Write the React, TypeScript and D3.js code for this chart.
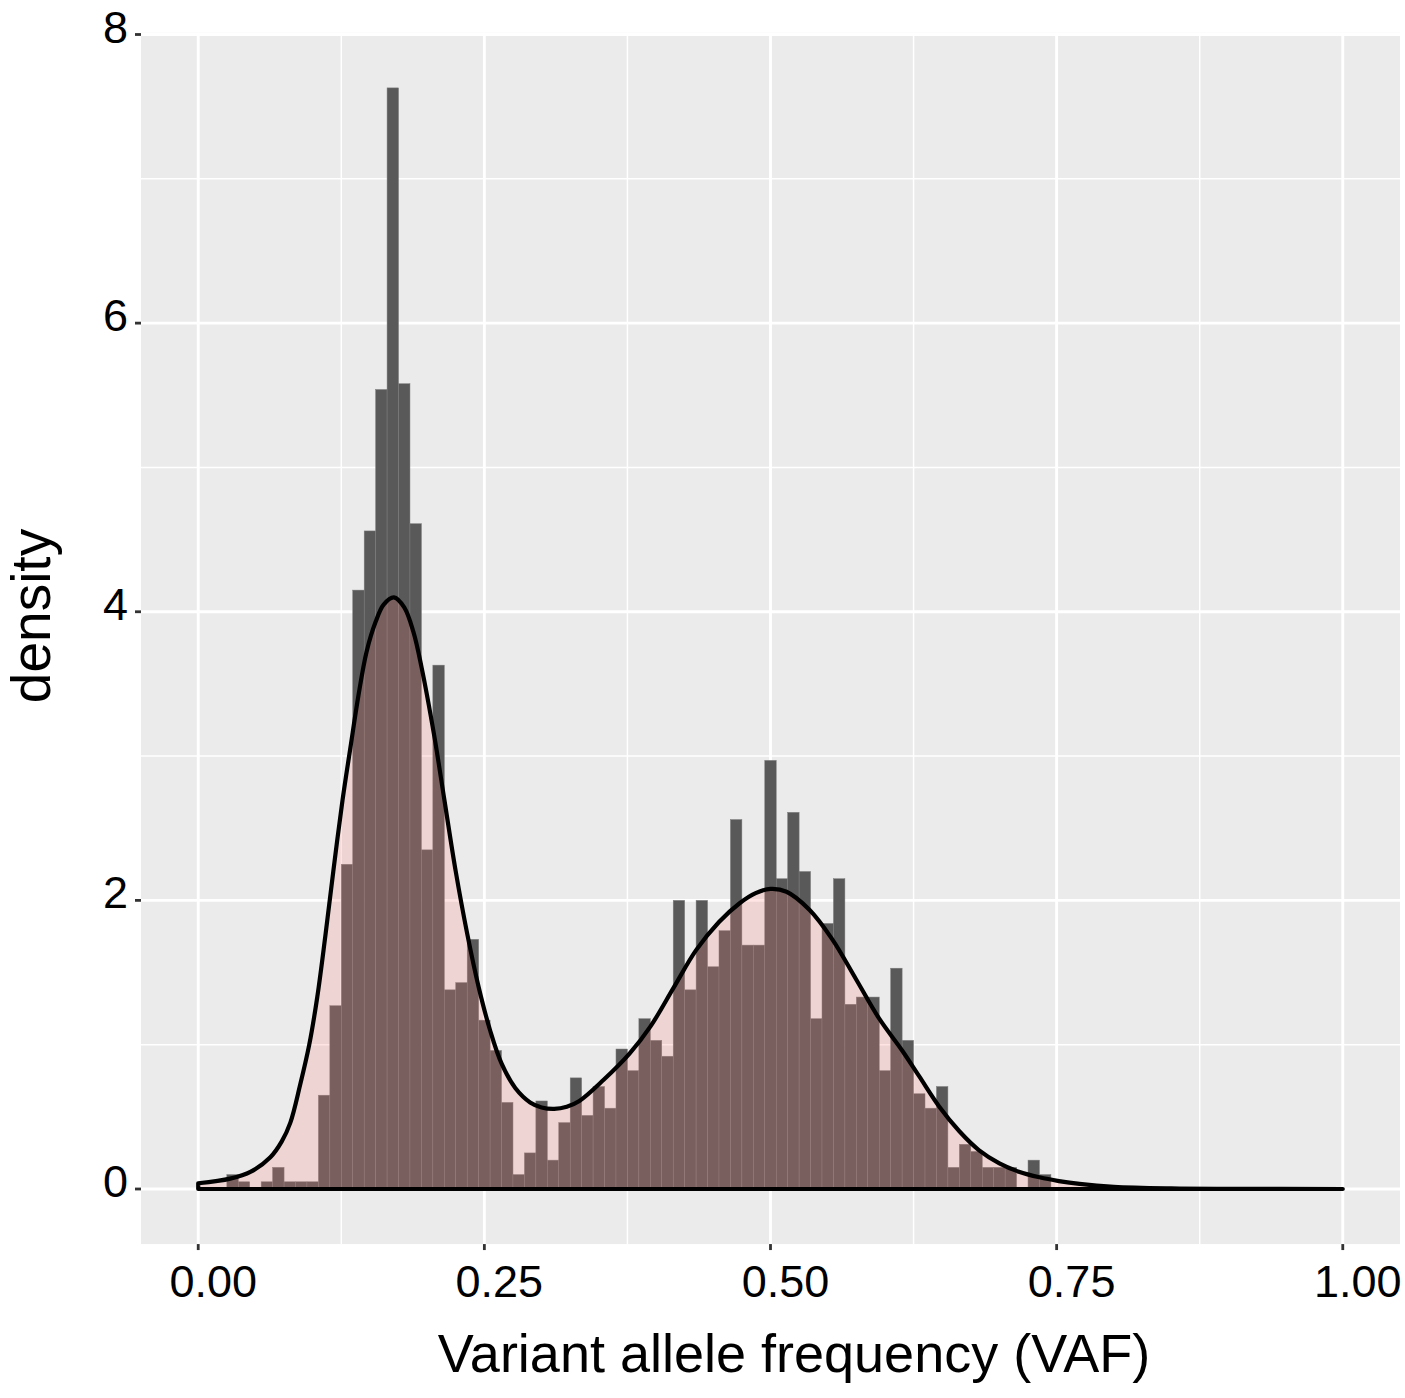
import React from 'react'
import * as d3 from 'd3'

const width = 1405
const height = 1398

const binWidth = 0.01
const binCenters = [
  0.0, 0.01, 0.02, 0.03, 0.04, 0.05, 0.06, 0.07, 0.08, 0.09,
  0.1, 0.11, 0.12, 0.13, 0.14, 0.15, 0.16, 0.17, 0.18, 0.19,
  0.2, 0.21, 0.22, 0.23, 0.24, 0.25, 0.26, 0.27, 0.28, 0.29,
  0.3, 0.31, 0.32, 0.33, 0.34, 0.35, 0.36, 0.37, 0.38, 0.39,
  0.4, 0.41, 0.42, 0.43, 0.44, 0.45, 0.46, 0.47, 0.48, 0.49,
  0.5, 0.51, 0.52, 0.53, 0.54, 0.55, 0.56, 0.57, 0.58, 0.59,
  0.6, 0.61, 0.62, 0.63, 0.64, 0.65, 0.66, 0.67, 0.68, 0.69,
  0.7, 0.71, 0.72, 0.73, 0.74,
]
const binDensity = [
  0, 0, 0, 0.1, 0.05, 0, 0.05, 0.15, 0.05, 0.05,
  0.05, 0.65, 1.27, 2.25, 4.15, 4.56, 5.54, 7.63, 5.58, 4.61,
  2.35, 3.63, 1.38, 1.43, 1.73, 1.17, 0.96, 0.6, 0.1, 0.25,
  0.61, 0.2, 0.46, 0.77, 0.51, 0.71, 0.56, 0.97, 0.82, 1.18,
  1.03, 0.92, 2.0, 1.38, 2.0, 1.54, 1.79, 2.56, 1.69, 1.69,
  2.97, 2.15, 2.61, 2.2, 1.18, 1.84, 2.15, 1.28, 1.33, 1.33,
  0.82, 1.53, 1.03, 0.66, 0.56, 0.71, 0.15, 0.31, 0.26, 0.15,
  0.15, 0.15, 0, 0.2, 0.1,
]

// fitted mixture density, sampled from the plot
const curveX = [
  0.0, 0.028, 0.046, 0.063, 0.073, 0.0805, 0.089, 0.097, 0.104, 0.111,
  0.118, 0.126, 0.133, 0.14, 0.147, 0.155, 0.162, 0.171, 0.18, 0.188,
  0.195, 0.206, 0.215, 0.225, 0.235, 0.245, 0.255, 0.265, 0.277, 0.29,
  0.3, 0.311, 0.322, 0.333, 0.354, 0.377, 0.395, 0.415, 0.435, 0.455,
  0.473, 0.487, 0.5, 0.514, 0.534, 0.554, 0.575, 0.595, 0.615, 0.63,
  0.6475, 0.665, 0.682, 0.7, 0.717, 0.735, 0.752, 0.77, 0.8, 0.85,
  0.9, 1.0,
]
const curveY = [
  0.04, 0.072, 0.12, 0.22, 0.33, 0.46, 0.72, 1.0, 1.33, 1.75,
  2.2, 2.69, 3.06, 3.42, 3.72, 3.93, 4.05, 4.1, 4.03, 3.86,
  3.62, 3.15, 2.7, 2.2, 1.77, 1.4, 1.1, 0.87, 0.7, 0.6,
  0.565, 0.555, 0.57, 0.61, 0.755, 0.94, 1.125, 1.39, 1.655, 1.85,
  1.98, 2.05, 2.08, 2.06, 1.935, 1.73, 1.45, 1.18, 0.96, 0.78,
  0.57, 0.4, 0.27, 0.178, 0.12, 0.081, 0.055, 0.035, 0.015, 0.004,
  0.001, 0,
]

const xTicks = [0, 0.25, 0.5, 0.75, 1]
const xTickLabels = ['0.00', '0.25', '0.50', '0.75', '1.00']
const xMinor = [0.125, 0.375, 0.625, 0.875]
const yTicks = [0, 2, 4, 6, 8]
const yTickLabels = ['0', '2', '4', '6', '8']
const yMinor = [1, 3, 5, 7]

const panel = { left: 141, right: 1400 }
const font = '"Liberation Sans", Arial, Helvetica, sans-serif'

export default function App() {
  const x = d3.scaleLinear().domain([-0.05, 1.05]).range([panel.left, panel.right])
  const y = d3.scaleLinear().domain([0, 8]).range([1189, 34.5])
  const top = y(8.0115)
  const bottom = y(-0.3815)

  const pts: [number, number][] = curveX.map((v, i) => [v, curveY[i]])

  const area = d3
    .area<[number, number]>()
    .x((d) => x(d[0]))
    .y0(y(0))
    .y1((d) => y(d[1]))
    .curve(d3.curveCatmullRom.alpha(0.5))

  const line = d3
    .line<[number, number]>()
    .x((d) => x(d[0]))
    .y((d) => y(d[1]))
    .curve(d3.curveCatmullRom.alpha(0.5))

  const outline =
    `M${x(0)},${y(0)}L` + (line(pts) || '').slice(1) + `L${x(1)},${y(0)}Z`

  return (
    <svg
      width={width}
      height={height}
      style={{ position: 'absolute', left: 0, top: 0, display: 'block', background: '#fff' }}
    >
      <rect x={panel.left} y={top} width={panel.right - panel.left} height={bottom - top} fill="#EBEBEB" />

      {yMinor.map((v) => (
        <line key={'ym' + v} x1={panel.left} x2={panel.right} y1={y(v)} y2={y(v)} stroke="#fff" strokeWidth={1.5} />
      ))}
      {xMinor.map((v) => (
        <line key={'xm' + v} x1={x(v)} x2={x(v)} y1={top} y2={bottom} stroke="#fff" strokeWidth={1.5} />
      ))}
      {yTicks.map((v) => (
        <line key={'yM' + v} x1={panel.left} x2={panel.right} y1={y(v)} y2={y(v)} stroke="#fff" strokeWidth={2.9} />
      ))}
      {xTicks.map((v) => (
        <line key={'xM' + v} x1={x(v)} x2={x(v)} y1={top} y2={bottom} stroke="#fff" strokeWidth={2.9} />
      ))}

      {binCenters.map((c, i) =>
        binDensity[i] > 0 ? (
          <rect
            key={'b' + i}
            x={x(c - binWidth / 2)}
            y={y(binDensity[i])}
            width={x(c + binWidth / 2) - x(c - binWidth / 2)}
            height={y(0) - y(binDensity[i])}
            fill="#595959"
            stroke="#7d7d7d"
            strokeWidth={0.5}
          />
        ) : null
      )}

      <path d={area(pts) || ''} fill="#F8766D" fillOpacity={0.2} />
      <path d={outline} fill="none" stroke="#000" strokeWidth={4.2} strokeLinejoin="round" />

      {yTicks.map((v, i) => (
        <g key={'yt' + v}>
          <line x1={panel.left - 6} x2={panel.left} y1={y(v)} y2={y(v)} stroke="#333" strokeWidth={2.8} />
          <text x={128} y={y(v) + 8} textAnchor="end" fontFamily={font} fontSize={45} fill="#000">
            {yTickLabels[i]}
          </text>
        </g>
      ))}
      {xTicks.map((v, i) => (
        <g key={'xt' + v}>
          <line x1={x(v)} x2={x(v)} y1={bottom} y2={bottom + 6} stroke="#333" strokeWidth={2.8} />
          <text x={x(v) + 15} y={1297} textAnchor="middle" fontFamily={font} fontSize={45} fill="#000">
            {xTickLabels[i]}
          </text>
        </g>
      ))}

      <text x={794} y={1372} textAnchor="middle" fontFamily={font} fontSize={54} fill="#000">
        Variant allele frequency (VAF)
      </text>
      <text
        transform={`translate(50,616) rotate(-90)`}
        textAnchor="middle"
        fontFamily={font}
        fontSize={55}
        fill="#000"
      >
        density
      </text>
    </svg>
  )
}
